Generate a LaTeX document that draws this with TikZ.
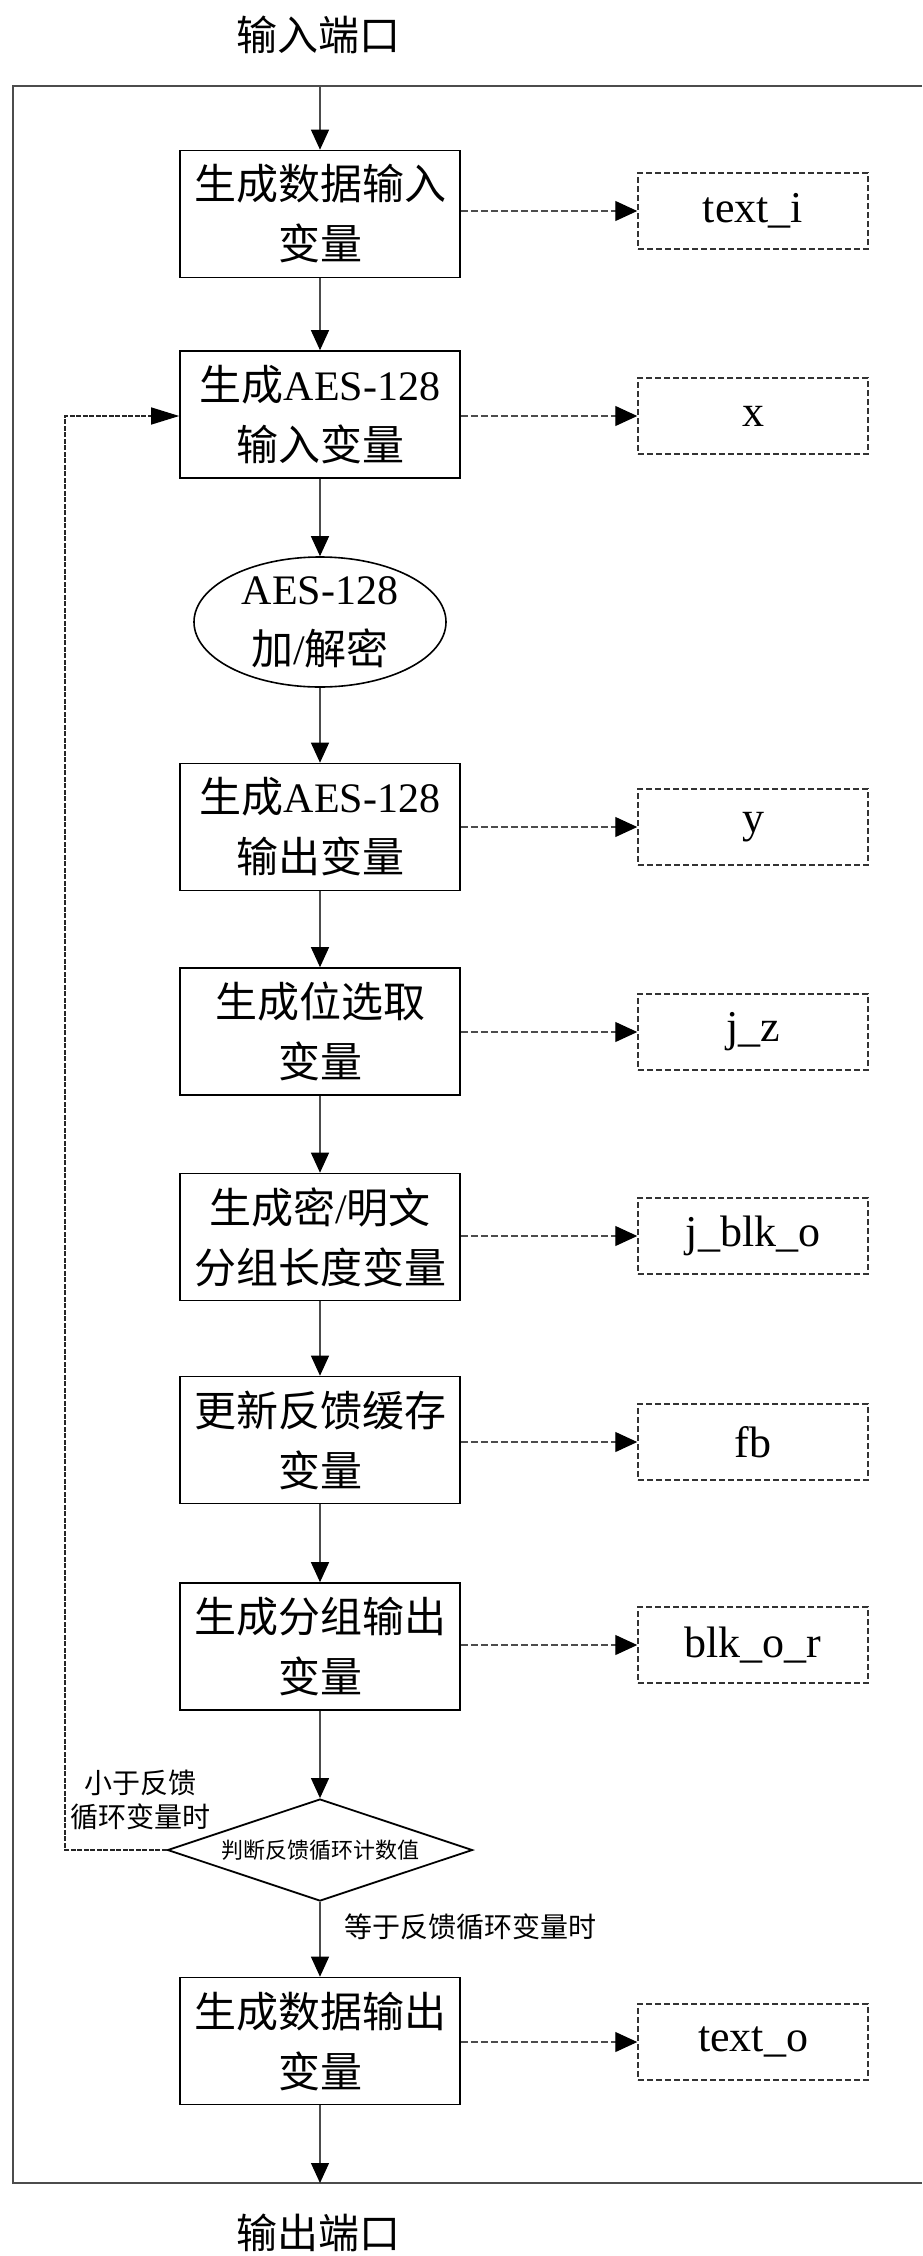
\documentclass[tikz,border=0pt]{standalone}
\usepackage{fontspec}
\setmainfont{Liberation Serif}
\newfontfamily\cjk{Noto Sans CJK SC}
\usetikzlibrary{shapes.geometric,arrows.meta}
\newcommand\zh[1]{{\cjk #1}}

\tikzset{
  proc/.style={draw=black, line width=1.6pt, minimum width=280pt, minimum height=127pt,
    inner sep=0pt, align=center, font=\fontsize{42}{60}\selectfont},
  var/.style={draw=black!80, dash pattern=on 6pt off 3pt, line width=1.5pt,
    minimum width=230pt, minimum height=76pt, inner sep=0pt, font=\fontsize{44}{50}\selectfont},
  flow/.style={draw=black!70, line width=1.2pt, -{Triangle[length=20pt,width=18pt,color=black]}},
  link/.style={draw=black!70, line width=1.2pt, dash pattern=on 7pt off 3pt,
    -{Triangle[length=22pt,width=20pt,color=black]}},
  loopback/.style={draw=black!85, line width=1.3pt, dash pattern=on 5pt off 1.5pt,
    -{Triangle[length=28pt,width=17pt,color=black]}},
  frameline/.style={draw=black!70, line width=1.5pt},
  port/.style={font=\fontsize{41}{48}\selectfont\cjk},
  cond/.style={font=\fontsize{28}{34}\selectfont\cjk, align=center, inner sep=0pt}
}

\begin{document}
\begin{tikzpicture}[x=1pt,y=-1pt]
  \useasboundingbox (0,0) rectangle (922,2256);

  % surrounding module frame (open on the right)
  \draw[frameline] (922,86) -- (13,86) -- (13,2183) -- (922,2183);

  % ports
  \node[port] (pin)  at (318,35)   {输入端口};
  \node[port] (pout) at (318,2233) {输出端口};
  \coordinate (in)  at (320,86);
  \coordinate (out) at (320,2183);

  % processing steps
  \node[proc] (b1) at (320,214)    {\zh{生成数据输入}\\\zh{变量}};
  \node[proc] (b2) at (320,414.5)  {\zh{生成}AES-128\\\zh{输入变量}};
  \node[draw=black, line width=1.6pt, ellipse, minimum width=252pt, minimum height=130pt,
        inner sep=0pt, align=center, font=\fontsize{42}{60}\selectfont]
        (aes) at (320,622) {AES-128\\\zh{加}/\zh{解密}};
  \node[proc] (b3) at (320,827)    {\zh{生成}AES-128\\\zh{输出变量}};
  \node[proc] (b4) at (320,1031.5) {\zh{生成位选取}\\\zh{变量}};
  \node[proc] (b5) at (320,1237)   {\zh{生成密}/\zh{明文}\\\zh{分组长度变量}};
  \node[proc] (b6) at (320,1440)   {\zh{更新反馈缓存}\\\zh{变量}};
  \node[proc] (b7) at (320,1646.5) {\zh{生成分组输出}\\\zh{变量}};
  \node[draw=black, line width=1.8pt, diamond, aspect=3, minimum width=305pt, minimum height=102pt,
        inner sep=0pt, font=\fontsize{22}{26}\selectfont\cjk] (dec) at (320,1850) {判断反馈循环计数值};
  \node[proc] (b8) at (320,2041)   {\zh{生成数据输出}\\\zh{变量}};

  % produced variables
  \node[var] (v1) at (753,211)  {text\_i};
  \node[var] (v2) at (753,416)  {x};
  \node[var] (v3) at (753,827)  {y};
  \node[var] (v4) at (753,1032) {j\_z};
  \node[var] (v5) at (753,1236) {j\_blk\_o};
  \node[var] (v6) at (753,1442) {fb};
  \node[var] (v7) at (753,1645) {blk\_o\_r};
  \node[var] (v8) at (753,2042) {text\_o};

  % main flow
  \draw[flow] (in) -- (b1);
  \draw[flow] (b1) -- (b2);
  \draw[flow] (b2) -- (aes);
  \draw[flow] (aes) -- (b3);
  \draw[flow] (b3) -- (b4);
  \draw[flow] (b4) -- (b5);
  \draw[flow] (b5) -- (b6);
  \draw[flow] (b6) -- (b7);
  \draw[flow] (b7) -- (dec);
  \draw[flow] (dec) -- (b8);
  \draw[flow] (b8) -- (out);

  % variable outputs
  \draw[link] (b1.east |- v1.west) -- (v1.west);
  \draw[link] (b2.east |- v2.west) -- (v2.west);
  \draw[link] (b3.east |- v3.west) -- (v3.west);
  \draw[link] (b4.east |- v4.west) -- (v4.west);
  \draw[link] (b5.east |- v5.west) -- (v5.west);
  \draw[link] (b6.east |- v6.west) -- (v6.west);
  \draw[link] (b7.east |- v7.west) -- (v7.west);
  \draw[link] (b8.east |- v8.west) -- (v8.west);

  % loop back while the counter is below the limit
  \coordinate (bend) at (65,1850);
  \draw[loopback] (dec.west) -- (bend) |- (b2.west |- v2.west);

  % branch conditions
  \node[cond] (lt) at (140,1800) {小于反馈\\循环变量时};
  \node[cond, anchor=west] (eq) at (344,1927) {等于反馈循环变量时};
\end{tikzpicture}
\end{document}
